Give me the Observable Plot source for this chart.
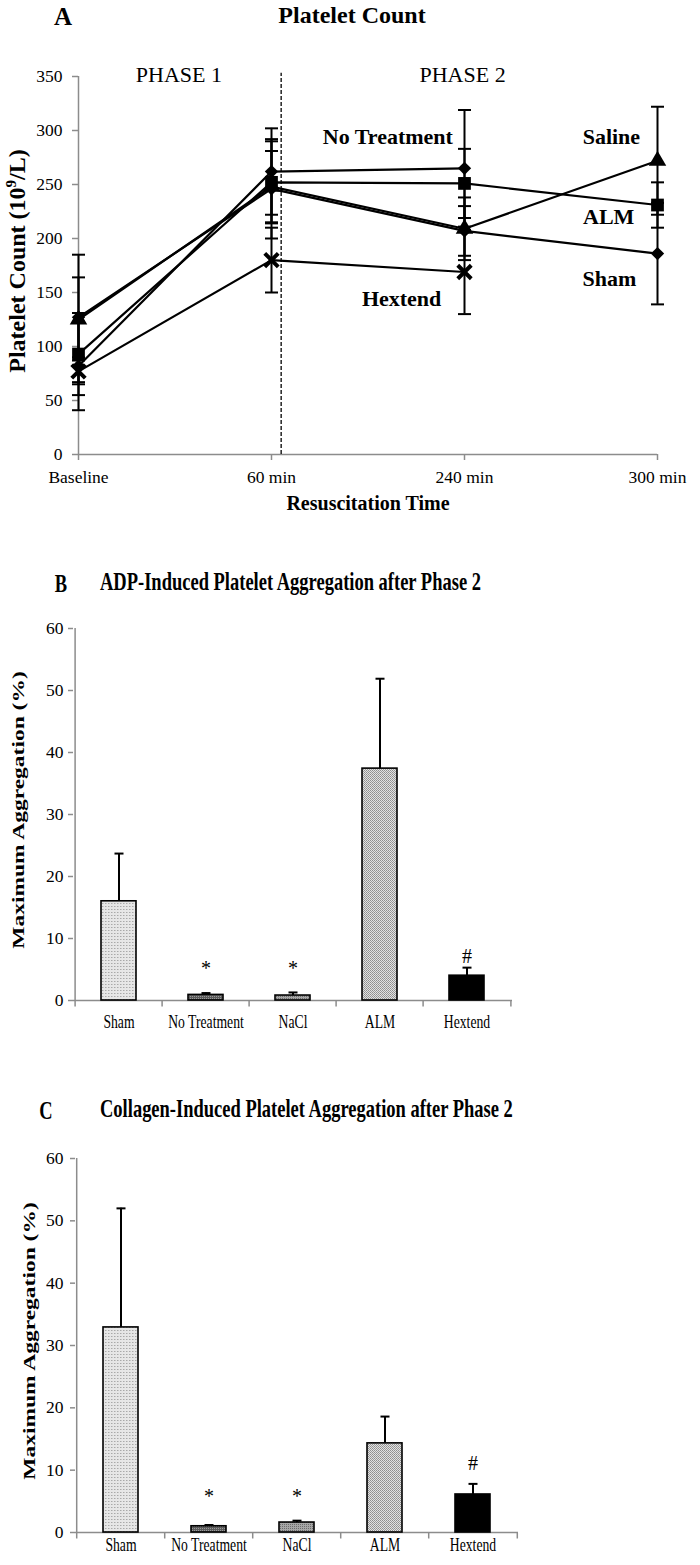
<!DOCTYPE html>
<html><head><meta charset="utf-8">
<script src="https://cdn.jsdelivr.net/npm/d3@7"></script>
<script src="https://cdn.jsdelivr.net/npm/@observablehq/plot@0.6"></script>
<style>
html,body{margin:0;padding:0;background:#fff;}
#root{position:relative;width:700px;height:1565px;overflow:hidden;font-family:"Liberation Serif",serif;background:#fff;}
#root > svg{position:absolute;left:0;}
</style></head><body><div id="root"></div>
<script>
// ---------- DATA: Panel A (Platelet count, 10^9/L) ----------
const timeLabels = ["Baseline", "60 min", "240 min", "300 min"];
const timeIndex = [0, 1, 2, 3];
const yTicksA = [0, 50, 100, 150, 200, 250, 300, 350];
const shamCount = [127, 246, 207, 186];
const shamErr = [37, 46, 23, 47];
const salineCount = [125, 248, 209, 272];
const salineErr = [60, 33, 29, 50];
const almCount = [93, 252, 251, 231];
const almErr = [38, 38, 32, 21];
const noTreatCount = [82, 262, 265];
const noTreatErr = [41, 40, 54];
const hextendCount = [77, 180, 169];
const hextendErr = [10, 30, 39];
const phaseSplit = 1.05;
const phaseNames = ["PHASE 1", "PHASE 2"];
const phaseX = [0.52, 1.99];
const phaseY = [351, 351];
const seriesLabels = ["No Treatment", "Saline", "ALM", "Sham", "Hextend"];
const seriesLabelX = [1.94, 2.91, 2.88, 2.89, 1.88];
const seriesLabelY = [294, 294, 220, 163, 144];

// ---------- DATA: Panels B & C (Maximum aggregation, %) ----------
const groups = ["Sham", "No Treatment", "NaCl", "ALM", "Hextend"];
const yTicksBC = [0, 10, 20, 30, 40, 50, 60];
const adpMean = [16.0, 0.9, 0.8, 37.4, 4.0];
const adpErr = [7.7, 0.3, 0.5, 14.5, 1.3];
const adpSig = ["", "*", "*", "", "#"];
const adpSigY = [0, 5.1, 5.1, 0, 7.1];
const colMean = [32.9, 1.0, 1.6, 14.3, 6.1];
const colErr = [19.1, 0.2, 0.3, 4.3, 1.7];
const colSig = ["", "*", "*", "", "#"];
const colSigY = [0, 5.8, 5.8, 0, 11.1];

// ---------- styles ----------
const barFills = ["url(#pSham)", "url(#pNoT)", "url(#pNaCl)", "url(#pALM)", "black"];
const AXIS = "#8c8c8c";
const FONT = "Liberation Serif";

const hline = {draw(ctx, size) { const r = Math.sqrt(size / Math.PI); ctx.moveTo(-r, 0); ctx.lineTo(r, 0); }};
const vtick = {draw(ctx, size) { const r = Math.sqrt(size / Math.PI); ctx.moveTo(0, 0); ctx.lineTo(0, r); }};

const root = document.getElementById("root");

// pattern defs
const defs = d3.select(root).append("svg").attr("width", 0).attr("height", 0).style("top", "0px").append("defs");
function pat(id, w, bg, cells) {
  const p = defs.append("pattern").attr("id", id).attr("width", w).attr("height", w).attr("patternUnits", "userSpaceOnUse");
  p.append("rect").attr("width", w).attr("height", w).attr("fill", bg);
  cells.forEach(([x, y, c]) => p.append("rect").attr("x", x).attr("y", y).attr("width", 1).attr("height", 1).attr("fill", c));
}
pat("pSham", 3, "#e6e6e6", [[0, 0, "#a9a9a9"], [1, 0, "#c8c8c8"]]);
pat("pNoT", 2, "#5c5c5c", [[0, 0, "#9a9a9a"]]);
pat("pNaCl", 2, "#a6a6a6", [[0, 0, "#6c6c6c"]]);
pat("pALM", 2, "#e2e2e2", [[0, 0, "#8e8e8e"], [1, 1, "#9c9c9c"]]);

// ---------- Panel A ----------
const seriesA = [
  {name: "Sham", v: shamCount, e: shamErr},
  {name: "Saline", v: salineCount, e: salineErr},
  {name: "ALM", v: almCount, e: almErr},
  {name: "No Treatment", v: noTreatCount, e: noTreatErr},
  {name: "Hextend", v: hextendCount, e: hextendErr}
];
const rowsA = seriesA.flatMap(s => s.v.map((v, i) => ({series: s.name, t: timeIndex[i], v, e: s.e[i]})));
const bySeries = n => rowsA.filter(r => r.series === n);
const labelRows = seriesLabels.map((s, i) => ({s, x: seriesLabelX[i], y: seriesLabelY[i]}));
const phaseRows = phaseNames.map((s, i) => ({s, x: phaseX[i], y: phaseY[i]}));

const plotA = Plot.plot({
  width: 700, height: 530,
  marginTop: 76, marginBottom: 76, marginLeft: 78, marginRight: 43,
  style: {fontFamily: FONT, fontSize: "17.5px", color: "black", background: "transparent", overflow: "visible"},
  x: {type: "linear", domain: [0, 3]},
  y: {domain: [0, 350]},
  marks: [
    Plot.ruleY([0], {stroke: AXIS, strokeWidth: 1.5}),
    Plot.ruleX([0], {y1: 0, y2: 350, stroke: AXIS, strokeWidth: 1.5}),
    Plot.axisY({ticks: yTicksA, tickSize: 6, tickPadding: 10, stroke: AXIS, strokeWidth: 1.5, color: "black", label: null}),
    Plot.axisX({ticks: timeIndex, tickFormat: i => timeLabels[i], tickSize: 6, tickPadding: 9.6, stroke: AXIS, strokeWidth: 1.5, color: "black", label: null}),
    Plot.ruleX([phaseSplit], {y1: 0, y2: 353, stroke: "black", strokeWidth: 1.3, strokeDasharray: "4,2"}),
    Plot.ruleX(rowsA, {x: "t", y1: d => d.v - d.e, y2: d => d.v + d.e, stroke: "black", strokeWidth: 2}),
    Plot.dot(rowsA, {x: "t", y: d => d.v - d.e, symbol: hline, r: 6.5, fill: "none", stroke: "black", strokeWidth: 2}),
    Plot.dot(rowsA, {x: "t", y: d => d.v + d.e, symbol: hline, r: 6.5, fill: "none", stroke: "black", strokeWidth: 2}),
    Plot.line(rowsA, {x: "t", y: "v", z: "series", stroke: "black", strokeWidth: 2.2}),
    Plot.dot(bySeries("Sham"), {x: "t", y: "v", symbol: "diamond2", r: 6, fill: "black"}),
    Plot.dot(bySeries("No Treatment"), {x: "t", y: "v", symbol: "diamond2", r: 6, fill: "black"}),
    Plot.dot(bySeries("Saline"), {x: "t", y: "v", symbol: "triangle", r: 6.5, fill: "black"}),
    Plot.dot(bySeries("ALM"), {x: "t", y: "v", symbol: "square", r: 7.2, fill: "black"}),
    Plot.dot(bySeries("Hextend"), {x: "t", y: "v", symbol: "times", r: 6.2, fill: "none", stroke: "black", strokeWidth: 4}),
    Plot.text(phaseRows, {x: "x", y: "y", text: "s", fontSize: 22, fill: "black"}),
    Plot.text(labelRows, {x: "x", y: "y", text: "s", textAnchor: "end", fontSize: 22, fontWeight: "bold", fill: "black"})
  ]
});
plotA.style.top = "0px";
root.appendChild(plotA);

// ---------- Panels B & C ----------
function barPanel(means, errs, sigs, sigYs, cfg) {
  const rows = groups.map((g, i) => ({g, m: means[i], e: errs[i], s: sigs[i], sy: sigYs[i]}));
  const step = (700 - cfg.ml - cfg.mr) / groups.length;
  const last = [groups[groups.length - 1]];
  const marks = [
    Plot.ruleY([0], {stroke: AXIS, strokeWidth: 1.5}),
    Plot.ruleX([groups[0]], {y1: 0, y2: 60, dx: -step / 2, stroke: AXIS, strokeWidth: 1.5}),
    Plot.axisY({ticks: yTicksBC, tickSize: 5, tickPadding: cfg.yPad, stroke: AXIS, strokeWidth: 1.5, color: "black", label: null, fontSize: 17.5}),
    Plot.axisX({tickSize: 0, tickPadding: cfg.xPad, color: "black", label: null, fontSize: 19}),
    Plot.dot(groups, {x: d => d, y: () => 0, dx: -step / 2, symbol: vtick, r: 6, fill: "none", stroke: AXIS, strokeWidth: 1.5}),
    Plot.dot(last, {x: d => d, y: () => 0, dx: step / 2, symbol: vtick, r: 6, fill: "none", stroke: AXIS, strokeWidth: 1.5}),
    Plot.ruleX(rows, {x: "g", y1: "m", y2: d => d.m + d.e, stroke: "black", strokeWidth: 2}),
    Plot.dot(rows, {x: "g", y: d => d.m + d.e, symbol: hline, r: 4.5, fill: "none", stroke: "black", strokeWidth: 2})
  ];
  groups.forEach((g, i) => {
    marks.push(Plot.barY(rows.filter(r => r.g === g), {x: "g", y: "m", fill: barFills[i], stroke: "black", strokeWidth: 1.6}));
  });
  marks.push(Plot.text(rows.filter(r => r.s), {x: "g", y: "sy", text: "s", fontSize: 20, fill: "black"}));
  const p = Plot.plot({
    width: 700, height: cfg.h,
    marginTop: cfg.mt, marginBottom: cfg.mb, marginLeft: cfg.ml, marginRight: cfg.mr,
    style: {fontFamily: FONT, fontSize: "17px", color: "black", background: "transparent", overflow: "visible"},
    x: {type: "band", domain: groups, paddingInner: 0.6, paddingOuter: 0.3},
    y: {domain: [0, 60]},
    marks
  });
  p.querySelectorAll('[aria-label="x-axis tick label"] text').forEach(t => {
    const tr = t.getAttribute("transform") || "";
    t.setAttribute("transform", tr + " scale(0.72,1)");
  });
  p.style.top = cfg.top + "px";
  root.appendChild(p);
}
barPanel(adpMean, adpErr, adpSig, adpSigY, {top: 540, h: 500, mt: 88, mb: 40, ml: 73, mr: 188, yPad: 5, xPad: 13.5});
barPanel(colMean, colErr, colSig, colSigY, {top: 1090, h: 475, mt: 68, mb: 33, ml: 75, mr: 182, yPad: 7, xPad: 4.5});

// ---------- Titles & axis titles (overlay) ----------
const ov = d3.select(root).append("svg").attr("width", 700).attr("height", 1565).style("top", "0px")
  .style("pointer-events", "none").attr("font-family", FONT).attr("fill", "black");
function T(txt, tr, size, anchor, weight) {
  return ov.append("text").attr("transform", tr).attr("font-size", size).attr("text-anchor", anchor)
    .attr("font-weight", weight || "bold").text(txt);
}
T("A", "translate(63,25)", 25, "middle");
T("Platelet Count", "translate(352,23)", 24, "middle");
const yl = ov.append("text").attr("transform", "translate(25,261) rotate(-90)").attr("font-size", 24)
  .attr("text-anchor", "middle").attr("font-weight", "bold");
yl.append("tspan").text("Platelet Count (10");
yl.append("tspan").attr("font-size", 15).attr("dy", -9).text("9");
yl.append("tspan").attr("dy", 9).text("/L)");
T("Resuscitation Time", "translate(368,510)", 20, "middle");

T("B", "translate(61,592) scale(0.74,1)", 25, "middle");
T("ADP-Induced Platelet Aggregation after Phase 2", "translate(100,590) scale(0.74,1)", 25, "start");
T("Maximum Aggregation (%)", "translate(24,810) rotate(-90) scale(1,0.74)", 23.5, "middle");

T("C", "translate(46,1119) scale(0.74,1)", 25, "middle");
T("Collagen-Induced Platelet Aggregation after Phase 2", "translate(100,1117) scale(0.74,1)", 25, "start");
T("Maximum Aggregation (%)", "translate(35,1341) rotate(-90) scale(1,0.74)", 23.5, "middle");
</script></body></html>
